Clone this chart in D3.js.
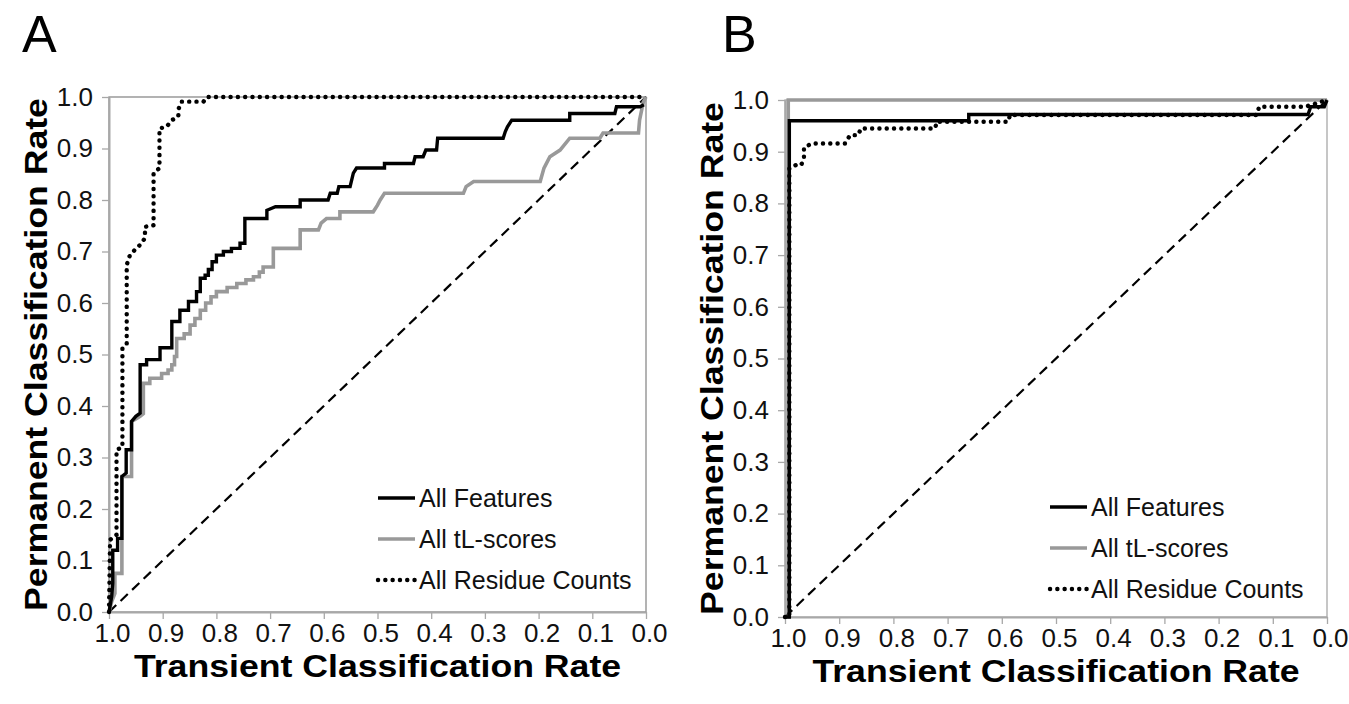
<!DOCTYPE html>
<html>
<head>
<meta charset="utf-8">
<script src="https://cdn.jsdelivr.net/npm/d3@7"></script>
<style>
  body { margin: 0; background: #fff; }
  svg { display: block; font-family: "Liberation Sans", Arial, sans-serif; }
</style>
</head>
<body>
<svg width="1349" height="704"></svg>
<script>
// tick values shared by both panels
const tickValues = [0, 0.1, 0.2, 0.3, 0.4, 0.5, 0.6, 0.7, 0.8, 0.9, 1.0];
const seriesNames = ["All Features", "All tL-scores", "All Residue Counts"];

// Panel A: [transient rate, permanent rate]
const featuresA = [[1.0,0.0],[0.995,0.03],[0.993,0.056],[0.993,0.12],[0.984,0.12],[0.984,0.143],[0.976,0.143],[0.976,0.263],[0.968,0.27],[0.968,0.315],[0.958,0.315],[0.958,0.37],[0.95,0.38],[0.942,0.386],[0.942,0.48],[0.93,0.48],[0.93,0.49],[0.905,0.49],[0.905,0.513],[0.883,0.513],[0.883,0.564],[0.868,0.564],[0.868,0.586],[0.852,0.586],[0.852,0.603],[0.837,0.603],[0.837,0.622],[0.83,0.622],[0.83,0.648],[0.821,0.648],[0.821,0.654],[0.815,0.654],[0.815,0.665],[0.808,0.665],[0.808,0.68],[0.80,0.68],[0.80,0.693],[0.787,0.693],[0.787,0.70],[0.772,0.70],[0.772,0.706],[0.756,0.706],[0.756,0.716],[0.747,0.716],[0.747,0.764],[0.706,0.764],[0.706,0.78],[0.69,0.787],[0.644,0.787],[0.644,0.80],[0.592,0.80],[0.588,0.813],[0.575,0.813],[0.572,0.826],[0.551,0.826],[0.545,0.852],[0.539,0.862],[0.487,0.862],[0.487,0.871],[0.433,0.871],[0.43,0.884],[0.415,0.884],[0.41,0.897],[0.39,0.897],[0.388,0.92],[0.266,0.92],[0.262,0.933],[0.258,0.942],[0.25,0.955],[0.142,0.955],[0.142,0.968],[0.058,0.968],[0.055,0.981],[0.011,0.981],[0.004,0.985]];
const tlScoresA = [[1.0,0.0],[0.995,0.02],[0.989,0.036],[0.989,0.075],[0.976,0.075],[0.976,0.263],[0.958,0.263],[0.958,0.37],[0.95,0.375],[0.942,0.38],[0.936,0.385],[0.936,0.444],[0.924,0.444],[0.924,0.454],[0.902,0.454],[0.902,0.463],[0.89,0.463],[0.89,0.47],[0.883,0.47],[0.883,0.48],[0.878,0.48],[0.878,0.496],[0.874,0.496],[0.874,0.531],[0.86,0.531],[0.86,0.54],[0.849,0.54],[0.849,0.557],[0.84,0.557],[0.84,0.57],[0.83,0.57],[0.83,0.586],[0.82,0.586],[0.82,0.60],[0.81,0.60],[0.81,0.612],[0.80,0.612],[0.80,0.622],[0.78,0.622],[0.78,0.63],[0.762,0.63],[0.762,0.638],[0.745,0.638],[0.745,0.645],[0.731,0.645],[0.731,0.651],[0.72,0.651],[0.72,0.66],[0.713,0.66],[0.713,0.67],[0.694,0.67],[0.694,0.706],[0.644,0.706],[0.644,0.742],[0.61,0.742],[0.605,0.755],[0.595,0.764],[0.57,0.764],[0.57,0.777],[0.508,0.777],[0.50,0.79],[0.495,0.80],[0.487,0.813],[0.34,0.813],[0.335,0.826],[0.321,0.836],[0.197,0.836],[0.19,0.862],[0.179,0.884],[0.16,0.897],[0.142,0.92],[0.086,0.92],[0.08,0.93],[0.014,0.93],[0.012,0.955],[0.005,0.99],[0.0,1.0]];
const residuesA = [[1.0,0.0],[0.998,0.14],[0.986,0.15],[0.986,0.315],[0.975,0.32],[0.975,0.512],[0.967,0.52],[0.967,0.674],[0.961,0.693],[0.952,0.703],[0.942,0.713],[0.933,0.726],[0.933,0.748],[0.917,0.751],[0.917,0.852],[0.906,0.862],[0.906,0.939],[0.893,0.942],[0.883,0.955],[0.871,0.962],[0.87,0.978],[0.865,0.991],[0.824,0.991],[0.818,1.0],[0.0,1.0]];

// Panel B
const featuresB = [[1.0,0.0],[0.992,0.0],[0.992,0.96],[0.661,0.96],[0.661,0.972],[0.035,0.972],[0.03,0.987],[0.005,0.987],[0.0,1.0]];
const tlScoresB = [[1.0,0.0],[0.994,0.0],[0.994,1.0],[0.0,1.0]];
const residuesB = [[1.0,0.0],[0.992,0.0],[0.992,0.868],[0.98,0.874],[0.97,0.874],[0.965,0.89],[0.965,0.908],[0.95,0.916],[0.889,0.916],[0.88,0.932],[0.865,0.932],[0.86,0.945],[0.723,0.945],[0.72,0.958],[0.588,0.958],[0.585,0.971],[0.13,0.971],[0.125,0.987],[0.04,0.987],[0.0,1.0]];

const svg = d3.select("svg");
svg.append("rect").attr("width", 1349).attr("height", 704).attr("fill", "#fff");

const styles = [
  { stroke: "#000", width: 3.4, dash: null },
  { stroke: "#999", width: 3.6, dash: null },
  { stroke: "#000", width: 4.4, dash: "0.1 7.2" }
];

function drawPanel(cfg) {
  const x = d3.scaleLinear().domain([1, 0]).range([cfg.left, cfg.right]);
  const y = d3.scaleLinear().domain([0, 1]).range([cfg.bottom, cfg.top]);
  const g = svg.append("g");

  // plot area frame
  g.append("rect")
    .attr("x", cfg.left).attr("y", cfg.top)
    .attr("width", cfg.right - cfg.left).attr("height", cfg.bottom - cfg.top)
    .attr("fill", "none").attr("stroke", cfg.frame).attr("stroke-width", 1.3);

  const fmt = d3.format(".1f");
  const xAxis = g.append("g")
    .attr("transform", `translate(0,${cfg.bottom})`)
    .call(d3.axisBottom(x).tickValues(tickValues).tickFormat(fmt).tickSizeInner(7).tickSizeOuter(0).tickPadding(5));
  const yAxis = g.append("g")
    .attr("transform", `translate(${cfg.left},0)`)
    .call(d3.axisLeft(y).tickValues(tickValues).tickFormat(fmt).tickSizeInner(7).tickSizeOuter(0).tickPadding(9));

  [xAxis, yAxis].forEach(a => {
    a.attr("font-family", null).attr("font-size", null);
    a.select(".domain").attr("stroke", "#a8a8a8").attr("stroke-width", 2);
    a.selectAll(".tick line").attr("stroke", "#a8a8a8").attr("stroke-width", 1.3);
    a.selectAll(".tick text").attr("fill", "#111").style("font-size", "26px");
  });
  // labels sit a little right of their ticks in the original
  xAxis.selectAll(".tick text").attr("dx", 3);

  // chance diagonal
  g.append("line")
    .attr("x1", x(1)).attr("y1", y(0)).attr("x2", x(0)).attr("y2", y(1))
    .attr("stroke", "#000").attr("stroke-width", 2.2).attr("stroke-dasharray", "10 6");

  const line = d3.line().x(d => x(d[0])).y(d => y(d[1]));
  const order = [1, 0, 2];
  order.forEach(i => {
    g.append("path")
      .datum(cfg.series[i])
      .attr("d", line)
      .attr("fill", "none")
      .attr("stroke", styles[i].stroke)
      .attr("stroke-width", styles[i].width)
      .attr("stroke-linecap", styles[i].dash ? "round" : "butt")
      .attr("stroke-linejoin", "miter")
      .attr("stroke-dasharray", styles[i].dash);
  });

  // legend
  const leg = g.append("g").attr("transform", `translate(${cfg.legX},${cfg.legY})`);
  seriesNames.forEach((name, i) => {
    const row = leg.append("g").attr("transform", `translate(0,${i * cfg.legStep})`);
    row.append("line")
      .attr("x1", 0).attr("x2", 37).attr("y1", 0).attr("y2", 0)
      .attr("stroke", styles[i].stroke)
      .attr("stroke-width", styles[i].width)
      .attr("stroke-linecap", styles[i].dash ? "round" : "butt")
      .attr("stroke-dasharray", styles[i].dash);
    row.append("text")
      .attr("x", 41).attr("y", 0).attr("dy", "0.35em")
      .style("font-size", "25px").attr("fill", "#111")
      .text(name);
  });

  // axis titles (the original type is a bit wide, so stretch along the text)
  g.append("text")
    .attr("transform", `translate(${(cfg.left + cfg.right) / 2},${cfg.bottom + 65}) scale(1.15,1)`)
    .attr("text-anchor", "middle")
    .style("font-size", "31px").style("font-weight", "bold")
    .text("Transient Classification Rate");
  g.append("text")
    .attr("transform", `translate(${cfg.left - 62},${(cfg.top + cfg.bottom) / 2}) rotate(-90) scale(1.15,1)`)
    .attr("text-anchor", "middle")
    .style("font-size", "31px").style("font-weight", "bold")
    .text("Permanent Classification Rate");

  // panel letter
  g.append("text")
    .attr("x", cfg.labelX).attr("y", 52)
    .style("font-size", "52px")
    .text(cfg.label);
}

drawPanel({
  label: "A", labelX: 22,
  left: 109, right: 646, top: 97, bottom: 612,
  frame: "#8a8a8a",
  series: [featuresA, tlScoresA, residuesA],
  legX: 378, legY: 498, legStep: 41
});

drawPanel({
  label: "B", labelX: 722,
  left: 785, right: 1327, top: 100, bottom: 617,
  frame: "#a8a8a8",
  series: [featuresB, tlScoresB, residuesB],
  legX: 1050, legY: 507, legStep: 41
});
</script>
</body>
</html>
